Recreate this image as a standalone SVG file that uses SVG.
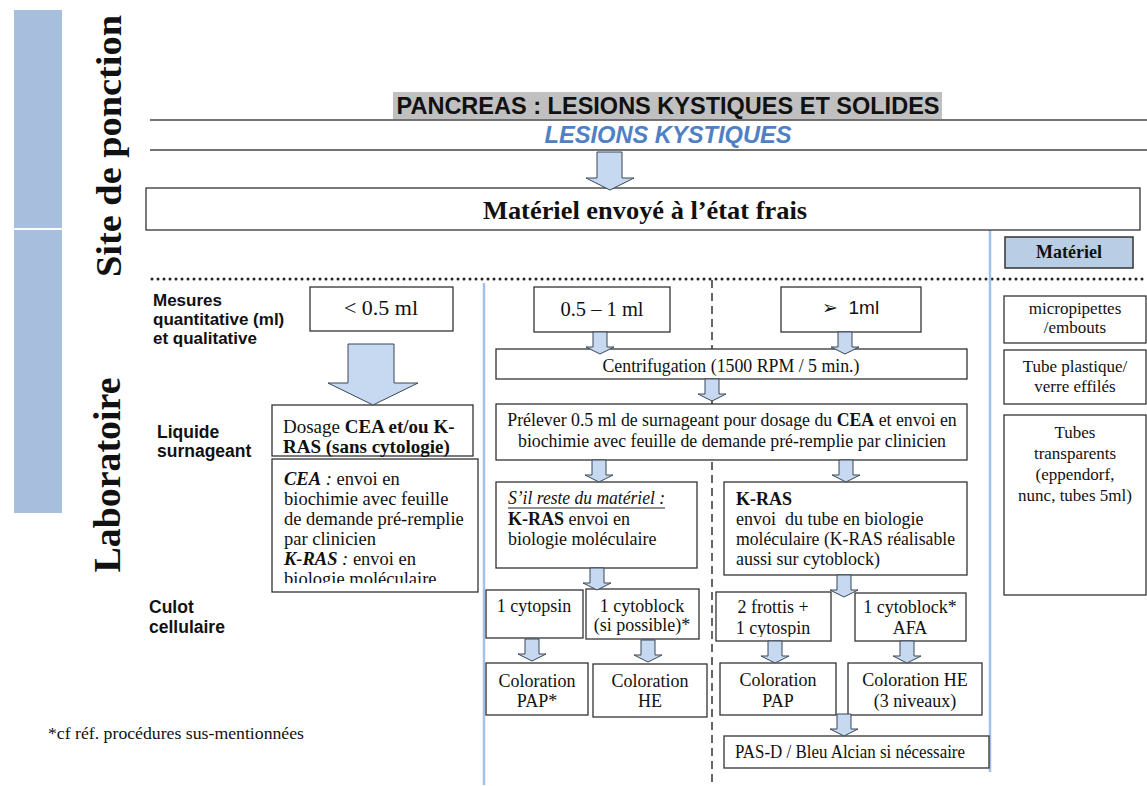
<svg xmlns="http://www.w3.org/2000/svg" width="1147" height="786" viewBox="0 0 1147 786">
<style>
.box{fill:#fff;stroke:#333;stroke-width:1.3}
.sf{font-family:"Liberation Serif","Times New Roman",serif;fill:#111}
.ss{font-family:"Liberation Sans",Arial,sans-serif;fill:#111}
.b{font-weight:bold}
.i{font-style:italic}
.arr{fill:#c6d9f0;stroke:#3a4656;stroke-width:1}
.m{text-anchor:middle}
.vl{stroke:#a3c0e6;stroke-width:2.5}
</style>
<defs>
<path id="sa" d="M-7,0 H7 V15 H14 L0,22 L-14,15 H-7 Z"/>
<clipPath id="c1"><rect x="272" y="459" width="206" height="124"/></clipPath>
<clipPath id="c2"><rect x="716" y="592" width="115" height="45"/></clipPath>
<clipPath id="c3"><rect x="855" y="593" width="111" height="44"/></clipPath>
</defs>
<rect x="0" y="0" width="1147" height="786" fill="#fff"/>

<g id="side-bars">
<rect x="14" y="10" width="48" height="218" fill="#a7bedd"/>
<rect x="14" y="230" width="48" height="283" fill="#a7bedd"/>
<text class="sf b m" font-size="36" transform="translate(121,146) rotate(-90)" textLength="262" lengthAdjust="spacingAndGlyphs">Site de ponction</text>
<text class="sf b m" font-size="37" transform="translate(120,475) rotate(-90)" textLength="195" lengthAdjust="spacingAndGlyphs">Laboratoire</text>
</g>

<g id="header">
<rect x="393" y="92" width="549" height="27" fill="#c0c0c0"/>
<text class="ss b m" x="668" y="114" font-size="23" textLength="543" lengthAdjust="spacingAndGlyphs">PANCREAS : LESIONS KYSTIQUES ET SOLIDES</text>
<line x1="150" y1="120" x2="1147" y2="120" stroke="#444" stroke-width="1.5"/>
<text class="ss b i m" x="668" y="143" font-size="23" style="fill:#4f80c4" textLength="247" lengthAdjust="spacingAndGlyphs">LESIONS KYSTIQUES</text>
<line x1="150" y1="150" x2="1147" y2="150" stroke="#444" stroke-width="1.5"/>
</g>

<g id="guides">
<line x1="152" y1="279" x2="1147" y2="279" stroke="#222" stroke-width="3" stroke-dasharray="0 6" stroke-linecap="round"/>
<line class="vl" x1="484" y1="283" x2="484" y2="785"/>
<line class="vl" x1="990" y1="230" x2="990" y2="772"/>
<line x1="712" y1="280" x2="712" y2="785" stroke="#333" stroke-width="1.5" stroke-dasharray="8 5"/>
</g>

<g id="row-labels">
<text class="ss b" font-size="17" x="153" y="306">Mesures</text>
<text class="ss b" font-size="17" x="153" y="325">quantitative (ml)</text>
<text class="ss b" font-size="17" x="153" y="344">et qualitative</text>
<text class="ss b" font-size="17.5" x="157" y="438">Liquide</text>
<text class="ss b" font-size="17.5" x="157" y="457">surnageant</text>
<text class="ss b" font-size="17.5" x="149" y="613">Culot</text>
<text class="ss b" font-size="17.5" x="149" y="633">cellulaire</text>
</g>

<g id="n-materiel-frais">
<rect class="box" x="146" y="188" width="994" height="42"/>
<text class="sf b m" x="645" y="219" font-size="25" textLength="324" lengthAdjust="spacingAndGlyphs">Matériel envoyé à l’état frais</text>
</g>

<g id="n-lt05">
<rect class="box" x="310" y="287" width="143" height="44"/>
<text class="sf m" x="381" y="315" font-size="22">&lt; 0.5 ml</text>
</g>
<g id="n-05-1">
<rect class="box" x="534" y="287" width="136" height="45"/>
<text class="sf m" x="602" y="316" font-size="20.5">0.5 – 1 ml</text>
</g>
<g id="n-gt1">
<rect class="box" x="781" y="287" width="140" height="45"/>
<text class="ss" x="822" y="314" font-size="19" style="white-space:pre">➢  1ml</text>
</g>

<g id="n-dosage">
<rect class="box" x="272" y="405" width="201" height="51"/>
<text class="sf" x="283" y="433" font-size="19">Dosage <tspan class="b">CEA et/ou K-</tspan></text>
<text class="sf b" x="283" y="453" font-size="19">RAS (sans cytologie)</text>
</g>
<g id="n-cea">
<rect class="box" x="272" y="459" width="206" height="133"/>
<g clip-path="url(#c1)">
<text class="sf" x="284" y="485" font-size="18.5"><tspan class="b i">CEA</tspan><tspan class="i"> :</tspan> envoi en</text>
<text class="sf" x="284" y="505" font-size="18.5">biochimie avec feuille</text>
<text class="sf" x="284" y="525" font-size="18.5">de demande pré-remplie</text>
<text class="sf" x="284" y="545" font-size="18.5">par clinicien</text>
<text class="sf" x="284" y="565" font-size="18.5"><tspan class="b i">K-RAS</tspan><tspan class="i"> :</tspan> envoi en</text>
<text class="sf" x="284" y="585" font-size="18.5">biologie moléculaire</text>
</g>
</g>

<g id="n-centrif">
<rect class="box" x="496" y="349" width="471" height="30"/>
<text class="sf m" x="731" y="372" font-size="18" textLength="257" lengthAdjust="spacingAndGlyphs">Centrifugation (1500 RPM / 5 min.)</text>
</g>
<g id="n-prelever">
<rect class="box" x="496" y="404" width="471" height="56"/>
<text class="sf m" x="732" y="426" font-size="17.8">Prélever 0.5 ml de surnageant pour dosage du <tspan class="b">CEA</tspan> et envoi en</text>
<text class="sf m" x="732" y="447" font-size="17.8">biochimie avec feuille de demande pré-remplie par clinicien</text>
</g>
<g id="n-reste">
<rect class="box" x="496" y="482" width="201" height="86"/>
<text class="sf i" x="508" y="504" font-size="18" textLength="157" lengthAdjust="spacingAndGlyphs">S’il reste du matériel :</text>
<line x1="508" y1="508" x2="665" y2="508" stroke="#222" stroke-width="1"/>
<text class="sf" x="508" y="525" font-size="18"><tspan class="b">K-RAS</tspan> envoi en</text>
<text class="sf" x="508" y="545" font-size="18">biologie moléculaire</text>
</g>
<g id="n-kras">
<rect class="box" x="724" y="482" width="243" height="93"/>
<text class="sf b" x="736" y="505" font-size="18">K-RAS</text>
<text class="sf" x="736" y="525" font-size="18" style="white-space:pre">envoi  du tube en biologie</text>
<text class="sf" x="736" y="545" font-size="18" textLength="219" lengthAdjust="spacingAndGlyphs">moléculaire (K-RAS réalisable</text>
<text class="sf" x="736" y="565" font-size="18">aussi sur cytoblock)</text>
</g>

<g id="n-cytopsin">
<rect class="box" x="486" y="590" width="97" height="48"/>
<text class="sf m" x="534" y="612" font-size="18">1 cytopsin</text>
</g>
<g id="n-cytoblock1">
<rect class="box" x="586" y="589" width="113" height="50"/>
<text class="sf m" x="642" y="612" font-size="18">1 cytoblock</text>
<text class="sf m" x="642" y="631" font-size="18">(si possible)*</text>
</g>
<g id="n-pap1">
<rect class="box" x="486" y="663" width="102" height="52"/>
<text class="sf m" x="537" y="687" font-size="18">Coloration</text>
<text class="sf m" x="537" y="707" font-size="18">PAP*</text>
</g>
<g id="n-he1">
<rect class="box" x="593" y="664" width="114" height="53"/>
<text class="sf m" x="650" y="687" font-size="18">Coloration</text>
<text class="sf m" x="650" y="707" font-size="18">HE</text>
</g>
<g id="n-frottis">
<rect class="box" x="716" y="592" width="115" height="49"/>
<g clip-path="url(#c2)">
<text class="sf m" x="773" y="613" font-size="18">2 frottis +</text>
<text class="sf m" x="773" y="634" font-size="18">1 cytospin</text>
</g>
</g>
<g id="n-cytoblock2">
<rect class="box" x="855" y="593" width="111" height="48"/>
<g clip-path="url(#c3)">
<text class="sf m" x="910" y="613" font-size="18">1 cytoblock*</text>
<text class="sf m" x="910" y="634" font-size="18">AFA</text>
</g>
</g>
<g id="n-pap2">
<rect class="box" x="720" y="663" width="116" height="52"/>
<text class="sf m" x="778" y="686" font-size="18">Coloration</text>
<text class="sf m" x="778" y="707" font-size="18">PAP</text>
</g>
<g id="n-he2">
<rect class="box" x="848" y="663" width="134" height="52"/>
<text class="sf m" x="915" y="686" font-size="18">Coloration HE</text>
<text class="sf m" x="915" y="707" font-size="18">(3 niveaux)</text>
</g>
<g id="n-pasd">
<rect class="box" x="724" y="736" width="265" height="32"/>
<text class="sf" x="735" y="758" font-size="18" textLength="230" lengthAdjust="spacingAndGlyphs">PAS-D / Bleu Alcian si nécessaire</text>
</g>

<g id="n-materiel">
<rect x="1005" y="237" width="128" height="31" fill="#b9cde5" stroke="#333" stroke-width="1.5"/>
<text class="sf b m" x="1069" y="258" font-size="18">Matériel</text>
</g>
<g id="n-micropipettes">
<rect class="box" x="1004" y="296" width="142" height="47"/>
<text class="sf m" x="1075" y="314" font-size="17">micropipettes</text>
<text class="sf m" x="1075" y="333" font-size="17">/embouts</text>
</g>
<g id="n-tube">
<rect class="box" x="1004" y="350" width="142" height="54"/>
<text class="sf m" x="1075" y="372" font-size="17">Tube plastique/</text>
<text class="sf m" x="1075" y="392" font-size="17">verre effilés</text>
</g>
<g id="n-tubes">
<rect class="box" x="1004" y="415" width="142" height="180"/>
<text class="sf m" x="1075" y="438" font-size="17">Tubes</text>
<text class="sf m" x="1075" y="459" font-size="17">transparents</text>
<text class="sf m" x="1075" y="480" font-size="17">(eppendorf,</text>
<text class="sf m" x="1075" y="501" font-size="17">nunc, tubes 5ml)</text>
</g>

<g id="footer">
<text class="sf" x="48" y="739" font-size="17" textLength="256" lengthAdjust="spacingAndGlyphs">*cf réf. procédures sus-mentionnées</text>
</g>

<g id="connectors">
<path class="arr" d="M597,152 H622 V178 H634 L610,190 L586,178 H597 Z"/>
<path class="arr" d="M348,344 H394 V383 H418 L373,405 L328,383 H348 Z"/>
<use href="#sa" class="arr" transform="translate(600,332)"/>
<use href="#sa" class="arr" transform="translate(845,332)"/>
<use href="#sa" class="arr" transform="translate(712,379)"/>
<use href="#sa" class="arr" transform="translate(599,460)"/>
<use href="#sa" class="arr" transform="translate(846,460)"/>
<use href="#sa" class="arr" transform="translate(597,568)"/>
<use href="#sa" class="arr" transform="translate(844,575)"/>
<use href="#sa" class="arr" transform="translate(532,639)"/>
<use href="#sa" class="arr" transform="translate(648,640)"/>
<use href="#sa" class="arr" transform="translate(775,641)"/>
<use href="#sa" class="arr" transform="translate(907,641)"/>
<use href="#sa" class="arr" transform="translate(844,714)"/>
</g>
</svg>
